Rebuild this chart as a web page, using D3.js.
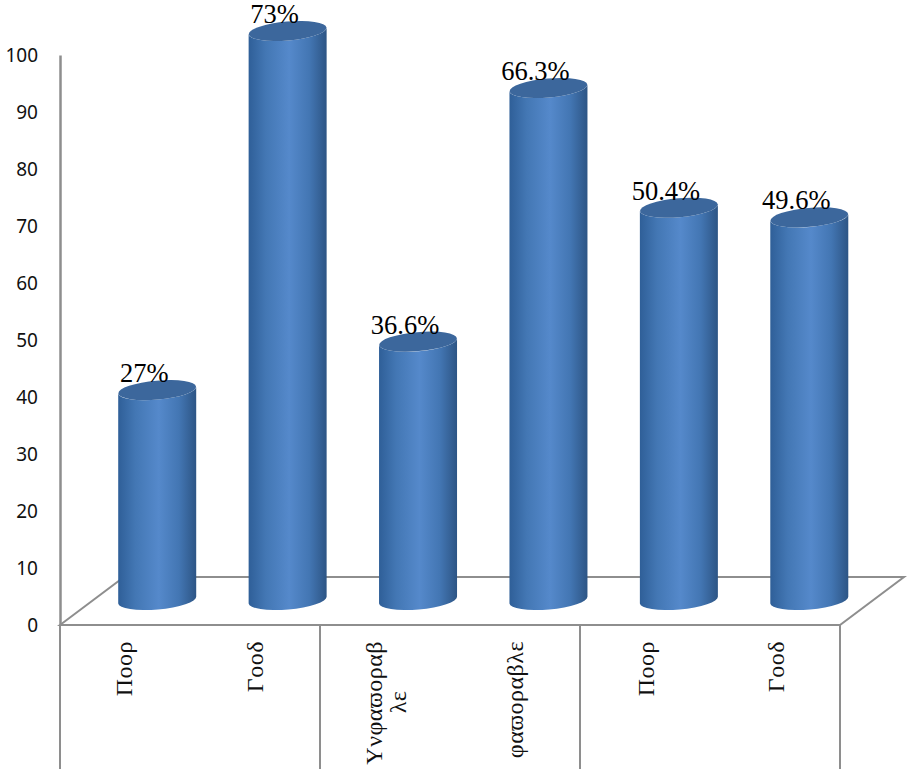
<!DOCTYPE html>
<html>
<head>
<meta charset="utf-8">
<script src="https://cdn.jsdelivr.net/npm/d3@7"></script>
<style>
  html, body { margin: 0; padding: 0; background: #fff; }
  svg { display: block; }
</style>
</head>
<body>
<div id="canvas"></div>
<script>
const categories = ["Ποορ", "Γοοδ", "Υνφαϖοραβλε", "φαϖοραβλε", "Ποορ", "Γοοδ"];
// the first unfavourable label wraps in the original
const categoryLines = [["Ποορ"], ["Γοοδ"], ["Υνφαϖοραβ", "λε"], ["φαϖοραβλε"], ["Ποορ"], ["Γοοδ"]];
const barValues = [37, 100, 45.5, 90, 69, 67.3];
const barLabels = ["27%", "73%", "36.6%", "66.3%", "50.4%", "49.6%"];
const yTicks = [0, 10, 20, 30, 40, 50, 60, 70, 80, 90, 100];
const groupEdges = [0, 2, 4, 6];

const width = 912;
const height = 775;
const margin = { top: 55, left: 60, bottom: 150, right: 72 };
const depth = { x: 64, y: 48 };
const axisColor = "#8e8e8e";

const svg = d3.select("#canvas").append("svg")
    .attr("width", width)
    .attr("height", height);

// bars sit a touch wider apart than the floor edges
const x = d3.scaleBand()
    .domain(d3.range(categories.length))
    .range([margin.left, width - margin.right + 2.5]);

const edge = d3.scaleLinear()
    .domain([0, 6])
    .range([margin.left, width - margin.right]);

const y = d3.scaleLinear()
    .domain([0, 100])
    .range([height - margin.bottom, margin.top]);

const grad = svg.append("defs").append("linearGradient")
    .attr("id", "cyl")
    .attr("x1", "0%").attr("x2", "100%").attr("y1", "0%").attr("y2", "0%");
grad.append("stop").attr("offset", "0%").attr("stop-color", "#2f5f98");
grad.append("stop").attr("offset", "22%").attr("stop-color", "#4377b4");
grad.append("stop").attr("offset", "52%").attr("stop-color", "#5589cb");
grad.append("stop").attr("offset", "78%").attr("stop-color", "#4376b3");
grad.append("stop").attr("offset", "100%").attr("stop-color", "#2d5585");

// floor
const floorY = y(0);
svg.append("path")
    .attr("fill", "none")
    .attr("stroke", axisColor)
    .attr("stroke-width", 2)
    .attr("d", `M${edge(0)},${floorY}L${edge(0) + depth.x},${floorY - depth.y}L${edge(6) + depth.x},${floorY - depth.y}L${edge(6)},${floorY}Z`);

// group separators under the floor
svg.append("g").selectAll("line").data(groupEdges).join("line")
    .attr("x1", d => edge(d))
    .attr("x2", d => edge(d))
    .attr("y1", floorY)
    .attr("y2", 769)
    .attr("stroke", axisColor)
    .attr("stroke-width", 2);

// y axis
const yAxis = svg.append("g")
    .attr("transform", `translate(${margin.left},0)`)
    .call(d3.axisLeft(y).tickValues(yTicks).tickSize(0).tickPadding(22));
yAxis.select(".domain").attr("stroke", axisColor).attr("stroke-width", 2.5);
yAxis.selectAll("text")
    .attr("font-family", "'Noto Sans', sans-serif")
    .attr("font-size", 19)
    .attr("fill", "#111");

// cylinders
const rx = 39;
const ry = 9.5;
const tilt = -5;
const lift = rx * Math.sin(tilt * Math.PI / 180);
const bars = svg.append("g").selectAll("g").data(barValues).join("g")
    .attr("transform", (d, i) => `translate(${x(i) + x.bandwidth() / 2 + depth.x / 2},0)`);

bars.append("path")
    .attr("fill", "url(#cyl)")
    .attr("d", d => {
        const top = y(d) - depth.y / 2;
        const base = y(0) - depth.y / 2 - 1;
        return `M${-rx},${top - lift}L${-rx},${base - lift}`
            + `A${rx},${ry} ${tilt} 0 0 ${rx},${base + lift}`
            + `L${rx},${top + lift}`
            + `A${rx},${ry} ${tilt} 0 1 ${-rx},${top - lift}Z`;
    });

bars.append("ellipse")
    .attr("rx", rx)
    .attr("ry", ry)
    .attr("fill", "#3c679c")
    .attr("transform", d => `translate(0,${y(d) - depth.y / 2}) rotate(${tilt})`);

bars.append("text")
    .attr("x", -13)
    .attr("y", d => y(d) - depth.y / 2 - 8)
    .attr("text-anchor", "middle")
    .attr("font-family", "'Liberation Serif', serif")
    .attr("font-size", 26.5)
    .attr("fill", "#000")
    .text((d, i) => barLabels[i]);

// category labels, rotated
const catG = svg.append("g").selectAll("g").data(categoryLines).join("g")
    .attr("transform", (d, i) => `translate(${x(i) + x.bandwidth() / 2},0)`);

catG.each(function (lines) {
    const g = d3.select(this);
    const wrapped = lines.length > 1;
    lines.forEach((line, k) => {
        const px = wrapped ? (k === 0 ? -4 : 20) : 7;
        const py = k === 0 ? 641 : 702;
        g.append("text")
            .attr("transform", `translate(${px},${py}) rotate(-90)`)
            .attr("text-anchor", k === 0 ? "end" : "middle")
            .attr("font-family", "'Liberation Serif', serif")
            .attr("font-size", 24)
            .attr("letter-spacing", 0.5)
            .attr("fill", "#111")
            .text(line);
    });
});
</script>
</body>
</html>
